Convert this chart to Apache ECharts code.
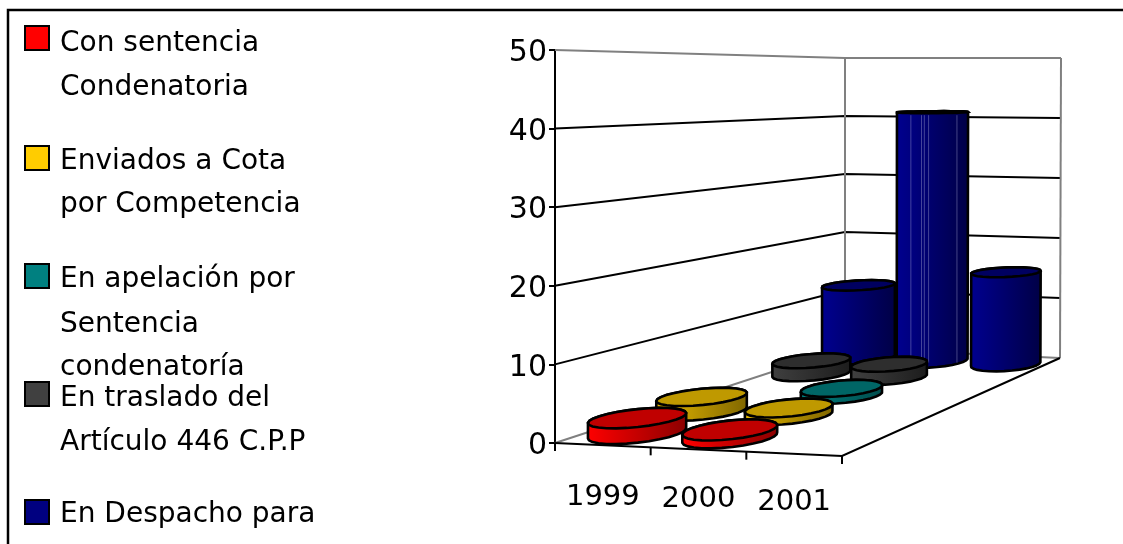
<!DOCTYPE html>
<html><head><meta charset="utf-8">
<style>html,body{margin:0;padding:0;background:#fff;overflow:hidden}#c{width:1123px;height:544px}</style>
<script src="https://cdn.jsdelivr.net/npm/echarts@6/dist/echarts.min.js"></script>
</head><body><div id="c"></div>
<script>
const categories = ['1999','2000','2001'];
const yTicks = [0,10,20,30,40,50];
const sentenciaCondenatoria = [2,1,0];
const enviadosCota = [2,1,0];
const enApelacion = [0,1,0];
const enTraslado = [2,2,0];
const enDespacho = [12,41,15];

const seriesDefs = [
  {name:'Con sentencia Condenatoria', values:sentenciaCondenatoria, lines:['Con sentencia','Condenatoria'], colors:['#ff0000','#8a0000','#c00000'], icon:'#ff0000', iconY:26, textY:[52,96]},
  {name:'Enviados a Cota por Competencia', values:enviadosCota, lines:['Enviados a Cota','por Competencia'], colors:['#e6b800','#7f6600','#bf9900'], icon:'#ffcc00', iconY:146, textY:[170,213]},
  {name:'En apelación por Sentencia condenatoría', values:enApelacion, lines:['En apelación por','Sentencia','condenatoría'], colors:['#008080','#004c4c','#006666'], icon:'#008080', iconY:264, textY:[288,333,376]},
  {name:'En traslado del Artículo 446 C.P.P', values:enTraslado, lines:['En traslado del','Artículo 446 C.P.P'], colors:['#404040','#1c1c1c','#2e2e2e'], icon:'#404040', iconY:382, textY:[407,451]},
  {name:'En Despacho para', values:enDespacho, lines:['En Despacho para'], colors:['#000090','#000045','#000060'], icon:'#000080', iconY:500, textY:[523]}
];

// projected box: floor and ceiling corners [front-left, front-right, back-left, back-right]
const FLOOR = [[555,443],[842,456],[845,348],[1060,358]];
const CEIL  = [[555,50],[842,56],[845,58],[1061,58]];
const DEPTH_K = 1.3;
function bil(q,u,w){
  const f=[q[0][0]+(q[1][0]-q[0][0])*u, q[0][1]+(q[1][1]-q[0][1])*u];
  const b=[q[2][0]+(q[3][0]-q[2][0])*u, q[2][1]+(q[3][1]-q[2][1])*u];
  return [f[0]+(b[0]-f[0])*w, f[1]+(b[1]-f[1])*w];
}
function project(u,w,v){
  const a=bil(FLOOR,u,w), b=bil(CEIL,u,w);
  return [a[0]+(b[0]-a[0])*v, a[1]+(b[1]-a[1])*v];
}
function hull(pts){
  const p=pts.slice().sort((a,b)=>a[0]-b[0]||a[1]-b[1]);
  const cr=(o,a,b)=>(a[0]-o[0])*(b[1]-o[1])-(a[1]-o[1])*(b[0]-o[0]);
  const lo=[],up=[];
  for(const q of p){while(lo.length>1&&cr(lo[lo.length-2],lo[lo.length-1],q)<=0)lo.pop();lo.push(q);}
  for(const q of p.slice().reverse()){while(up.length>1&&cr(up[up.length-2],up[up.length-1],q)<=0)up.pop();up.push(q);}
  lo.pop();up.pop();return lo.concat(up);
}
const R_U=0.138, R_W=0.09, SEG=28;
const STREAKS=[0.2,0.35,0.39,0.45,0.85];
function cylinder(def,row){
  return function(params,api){
    const value=api.value(1);
    const cs=params.coordSys;
    const top=api.coord([api.value(0),value]);
    const u=(top[0]-cs.x)/cs.width, v=(cs.y+cs.height-top[1])/cs.height;
    const wc=(row+0.5)/seriesDefs.length;
    const tp=[],bt=[];
    for(let i=0;i<SEG;i++){
      const a=i/SEG*Math.PI*2;
      const uu=u+R_U*Math.cos(a), ww=wc+R_W*Math.sin(a);
      const w2=DEPTH_K*ww/(1+(DEPTH_K-1)*ww);
      tp.push(project(uu,w2,v)); bt.push(project(uu,w2,0));
    }
    const stops=[{offset:0,color:def.colors[0]},{offset:1,color:def.colors[1]}];
    const ch=[
      {type:'polygon',shape:{points:hull(tp.concat(bt))},style:{fill:{type:'linear',x:0,y:0,x2:1,y2:0,colorStops:stops},stroke:'#000',lineWidth:2.6,lineJoin:'round'}}
    ];
    if(value>=30){
      const xs=bt.map(p=>p[0]), x0=Math.min.apply(null,xs), x1=Math.max.apply(null,xs);
      const yTop=Math.max.apply(null,tp.map(p=>p[1]));
      STREAKS.forEach(s=>{
        const x=x0+(x1-x0)*s;
        const yb=project(u,(wc),0)[1];
        ch.push({type:'line',shape:{x1:x,y1:yTop+2,x2:x,y2:yb},style:{stroke:'rgba(150,150,200,0.45)',lineWidth:1}});
      });
    }
    ch.push({type:'polygon',shape:{points:tp},style:{fill:def.colors[2],stroke:'#000',lineWidth:2.6}});
    return {type:'group',children:ch};
  };
}
function walls(params,api){
  const cs=params.coordSys, ch=[];
  const line=(pts,c,lw)=>ch.push({type:'polyline',shape:{points:pts},style:{fill:null,stroke:c,lineWidth:lw||2}});
  yTicks.forEach(t=>{
    const v=(cs.y+cs.height-api.coord([0,t])[1])/cs.height;
    const edge=(t===0||t===yTicks[yTicks.length-1]);
    line([project(0,0,v),project(0,1,v),project(1,1,v)], edge?'#808080':'#000');
  });
  line([project(0,1,0),project(0,1,1)],'#808080');
  line([project(1,1,0),project(1,1,1)],'#808080');
  line([project(0,0,0),project(1,0,0),project(1,1,0)],'#000');
  for(let i=0;i<=categories.length;i++){
    const p=project(i/categories.length,0,0);
    line([p,[p[0],p[1]+8]],'#000');
  }
  return {type:'group',children:ch};
}

const series=[{type:'custom',name:'walls',silent:true,z:1,renderItem:walls,data:[[0,0]],encode:{x:0,y:1}}];
seriesDefs.forEach((d,row)=>{
  const items=[];
  d.values.forEach((val,i)=>{ if(val>0) items.unshift([i,val]); });
  series.push({type:'custom',name:d.name,z:10-row,silent:true,renderItem:cylinder(d,row),data:items,encode:{x:0,y:1}});
});

const graphic=[{type:'polyline',silent:true,shape:{points:[[8,544],[8,10],[1123,10]]},style:{fill:null,stroke:'#000',lineWidth:2.5}}];
seriesDefs.forEach(d=>{
  graphic.push({type:'rect',silent:true,shape:{x:25,y:d.iconY,width:24,height:24},style:{fill:d.icon,stroke:'#000',lineWidth:2}});
  d.lines.forEach((t,i)=>graphic.push({type:'text',silent:true,x:60,y:d.textY[i]-8,style:{text:t,fontFamily:'DejaVu Sans',fontSize:28,fill:'#000',verticalAlign:'middle'}}));
});

const rich=(pad)=>({fontSize:29,fontFamily:'DejaVu Sans',color:'#000',padding:[pad,0,0,0]});
const chart=echarts.init(document.getElementById('c'),null,{renderer:'canvas'});
chart.setOption({
  animation:false,
  backgroundColor:'#fff',
  grid:{left:555,top:50,width:287,height:393},
  xAxis:{type:'category',data:categories,axisLine:{show:false},axisTick:{show:false},
    axisLabel:{interval:0,hideOverlap:false,margin:40,color:'#000',fontFamily:'DejaVu Sans',fontSize:29,
      formatter:(v,i)=>['{a|'+v+'}','{b|'+v+'}','{c|'+v+'}'][i],
      rich:{a:rich(0),b:rich(2),c:rich(5)}}},
  yAxis:{type:'value',min:0,max:50,interval:10,splitLine:{show:false},
    axisLine:{show:true,lineStyle:{color:'#000',width:2}},
    axisTick:{show:true,length:6,lineStyle:{color:'#000',width:2}},
    axisLabel:{margin:8,color:'#000',fontFamily:'DejaVu Sans',fontSize:30,formatter:v=>'{v|'+v+'}',
      rich:{v:{fontSize:30,fontFamily:'DejaVu Sans',color:'#000',padding:[7,0,0,0]}}}},
  graphic:graphic,
  series:series
});
</script></body></html>
